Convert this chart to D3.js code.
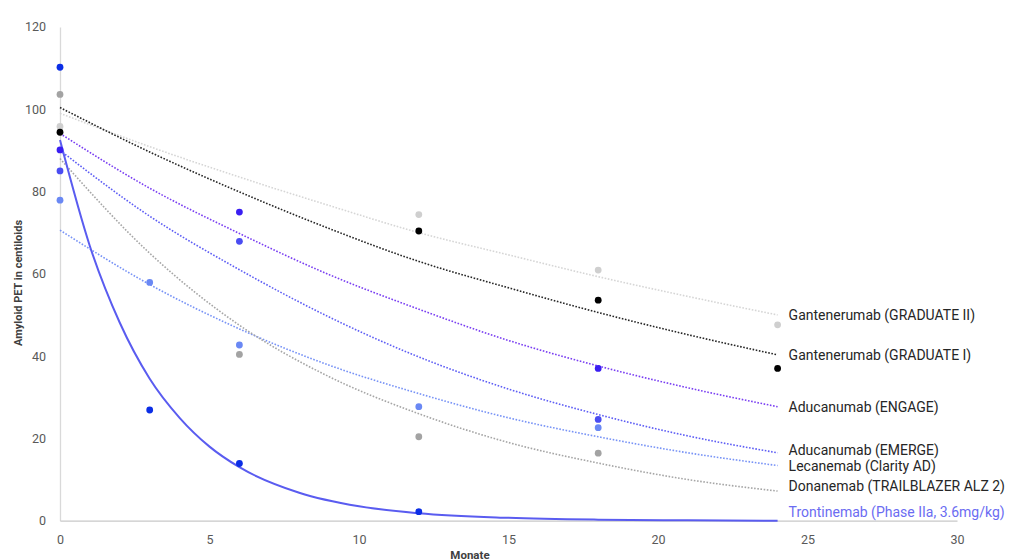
<!DOCTYPE html>
<html>
<head>
<meta charset="utf-8">
<script src="https://cdn.jsdelivr.net/npm/d3@7"></script>
<style>
  body { margin: 0; background: #fff; }
  svg { display: block; font-family: Roboto, "Liberation Sans", sans-serif; }
</style>
</head>
<body>
<svg id="chart" width="1024" height="560"></svg>
<script>
// series names, in label order (top to bottom)
const seriesNames = [
  "Gantenerumab (GRADUATE II)",
  "Gantenerumab (GRADUATE I)",
  "Aducanumab (ENGAGE)",
  "Aducanumab (EMERGE)",
  "Lecanemab (Clarity AD)",
  "Donanemab (TRAILBLAZER ALZ 2)",
  "Trontinemab (Phase IIa, 3.6mg/kg)"
]

// measured points: months / centiloids
const grad2Months = [0, 12, 18, 24]
const grad2Values = [95.8, 74.4, 60.9, 47.6]
const grad1Months = [0, 12, 18, 24]
const grad1Values = [94.4, 70.4, 53.6, 37.0]
const engageMonths = [0, 6, 18]
const engageValues = [90.1, 75.0, 37.0]
const emergeMonths = [0, 6, 18]
const emergeValues = [85.0, 67.9, 24.6]
const lecanemabMonths = [0, 3, 6, 12, 18]
const lecanemabValues = [77.9, 57.9, 42.7, 27.7, 22.6]
const donanemabMonths = [0, 6, 12, 18]
const donanemabValues = [103.6, 40.4, 20.4, 16.4]
const trontiMonths = [0, 3, 6, 12]
const trontiValues = [110.2, 26.9, 13.9, 2.2]

// trend lines
const trendMonths = [0, 3, 6, 9, 12, 15, 18, 21, 24]
const grad2Trend = [99.0, 90.9, 83.5, 76.6, 70.0, 64.6, 59.3, 54.5, 50.0]
const grad1Trend = [100.4, 89.6, 79.9, 71.0, 63.0, 56.6, 50.6, 45.2, 40.3]
const engageTrend = [94.1, 80.8, 69.8, 59.8, 51.4, 43.8, 37.6, 32.3, 27.7]
const emergeTrend = [90.0, 74.0, 61.0, 49.5, 39.8, 32.0, 25.8, 20.6, 16.5]
const lecanemabTrend = [70.6, 57.4, 46.6, 37.8, 30.9, 25.0, 20.4, 16.5, 13.4]
const donanemabTrend = [88.0, 65.0, 47.5, 35.0, 26.0, 19.0, 14.0, 10.0, 7.2]
const trontiTrendMonths = [0, 1, 2, 3, 4, 5, 6, 8, 10, 12, 15, 18, 21, 24]
const trontiTrend = [92.5, 66.7, 48.1, 34.5, 25.0, 18.0, 13.0, 6.8, 3.5, 1.8, 0.7, 0.25, 0.1, 0]

const xTicks = [0, 5, 10, 15, 20, 25, 30]
const yTicks = [0, 20, 40, 60, 80, 100, 120]

const series = [
  {name: seriesNames[0], months: grad2Months, values: grad2Values, tMonths: trendMonths, trend: grad2Trend,
   dot: "#cfcfcf", line: "#d6d6d6", label: "#262626", solid: false, nudge: 0},
  {name: seriesNames[1], months: grad1Months, values: grad1Values, tMonths: trendMonths, trend: grad1Trend,
   dot: "#000000", line: "#262626", label: "#262626", solid: false, nudge: 0},
  {name: seriesNames[2], months: engageMonths, values: engageValues, tMonths: trendMonths, trend: engageTrend,
   dot: "#3a1ef2", line: "#7a3ff2", label: "#262626", solid: false, nudge: 0},
  {name: seriesNames[3], months: emergeMonths, values: emergeValues, tMonths: trendMonths, trend: emergeTrend,
   dot: "#4a4cf2", line: "#5e5ef5", label: "#262626", solid: false, nudge: -3},
  {name: seriesNames[4], months: lecanemabMonths, values: lecanemabValues, tMonths: trendMonths, trend: lecanemabTrend,
   dot: "#6a88f4", line: "#7893f6", label: "#262626", solid: false, nudge: 1},
  {name: seriesNames[5], months: donanemabMonths, values: donanemabValues, tMonths: trendMonths, trend: donanemabTrend,
   dot: "#a3a3a3", line: "#a6a6a6", label: "#262626", solid: false, nudge: -5},
  {name: seriesNames[6], months: trontiMonths, values: trontiValues, tMonths: trontiTrendMonths, trend: trontiTrend,
   dot: "#0b2ee6", line: "#5a5cf0", label: "#6b6cf2", solid: true, nudge: -9}
]

const svg = d3.select("#chart")
const x = d3.scaleLinear().domain([0, 30]).range([60, 957])
const y = d3.scaleLinear().domain([0, 120]).range([520.7, 26.9])

// axes
const yAxis = svg.append("g")
  .attr("transform", `translate(${x(0)},0)`)
  .call(d3.axisLeft(y).tickValues(yTicks).tickSize(0).tickPadding(14))
yAxis.select(".domain").attr("stroke", "#d9d9d9").attr("stroke-width", 1.3)
yAxis.selectAll("text").attr("fill", "#595959").attr("font-size", 12.5)
  .attr("font-family", "Roboto, sans-serif")

const xAxis = svg.append("g")
  .attr("transform", `translate(0,${y(0)})`)
  .call(d3.axisBottom(x).tickValues(xTicks).tickSize(0).tickPadding(14))
xAxis.select(".domain").attr("stroke", "#c8c8c8").attr("stroke-width", 1.3)
xAxis.selectAll("text").attr("fill", "#595959").attr("font-size", 12.5)
  .attr("font-family", "Roboto, sans-serif")

svg.append("text")
  .attr("transform", "translate(22,283) rotate(-90)")
  .attr("text-anchor", "middle")
  .attr("font-size", 11)
  .attr("font-weight", "bold")
  .attr("fill", "#404040")
  .text("Amyloid PET in centiloids")

svg.append("text")
  .attr("x", 470)
  .attr("y", 558.5)
  .attr("text-anchor", "middle")
  .attr("font-size", 11.5)
  .attr("font-weight", "bold")
  .attr("fill", "#404040")
  .text("Monate")

// trend lines
const line = d3.line()
  .x(d => x(d[0]))
  .y(d => y(d[1]))
  .curve(d3.curveMonotoneX)

series.forEach(s => {
  svg.append("path")
    .datum(s.tMonths.map((m, i) => [m, s.trend[i]]))
    .attr("fill", "none")
    .attr("stroke", s.line)
    .attr("stroke-width", s.solid ? 2 : 1.6)
    .attr("stroke-dasharray", s.solid ? null : "1.6,1.6")
    .attr("d", line)
})

// points
series.forEach(s => {
  svg.append("g").selectAll("circle")
    .data(s.months.map((m, i) => [m, s.values[i]]))
    .join("circle")
    .attr("cx", d => x(d[0]))
    .attr("cy", d => y(d[1]))
    .attr("r", 3.4)
    .attr("fill", s.dot)
})

// labels at trend ends
series.forEach(s => {
  const last = s.trend.length - 1
  svg.append("text")
    .attr("x", x(s.tMonths[last]) + 11)
    .attr("y", y(s.trend[last]) + s.nudge)
    .attr("dy", "0.35em")
    .attr("font-size", 14)
    .attr("fill", s.label)
    .text(s.name)
})
</script>
</body>
</html>
